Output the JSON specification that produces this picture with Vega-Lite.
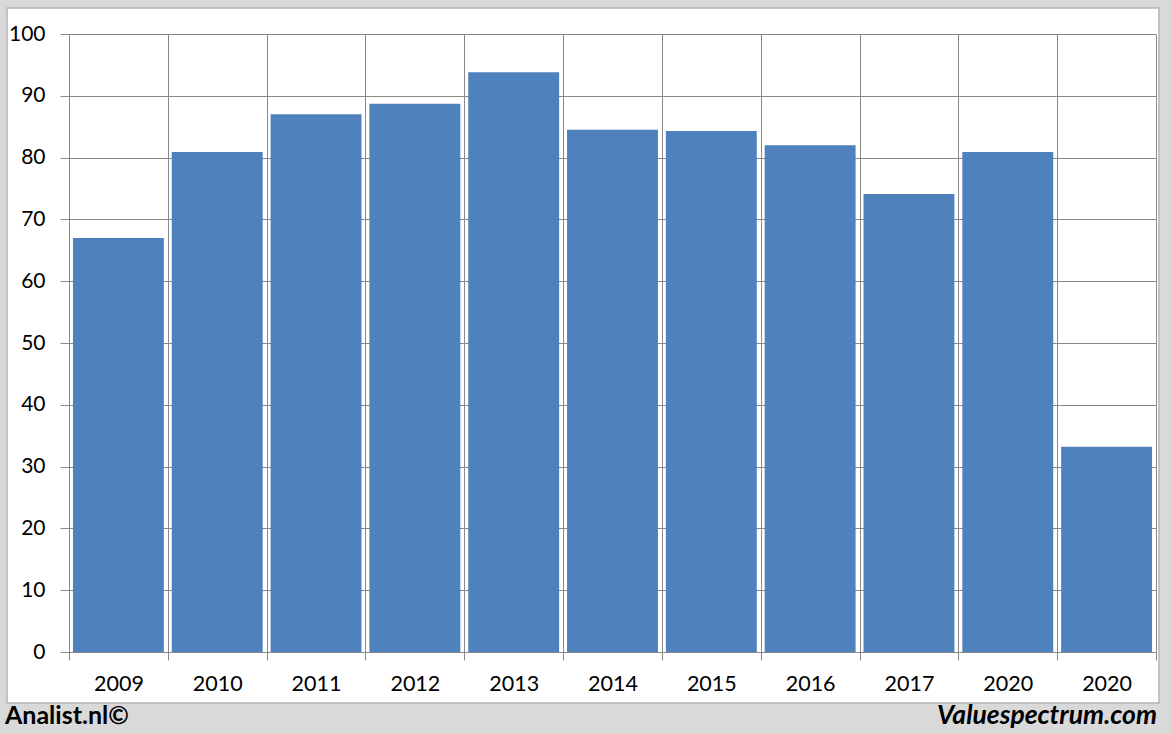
{
  "$schema": "https://vega.github.io/schema/vega-lite/v6.json",
  "width": 1087,
  "height": 618,
  "autosize": {"type": "none"},
  "padding": {"left": 69, "top": 34, "right": 16, "bottom": 82},
  "background": "white",
  "config": {"view": {"stroke": null}, "font": "Lato"},
  "layer": [
    {
      "data": {"values": [
        {"slot": "2009", "value": 67.0},
        {"slot": "2010", "value": 80.9},
        {"slot": "2011", "value": 87.0},
        {"slot": "2012", "value": 88.7},
        {"slot": "2013", "value": 93.8},
        {"slot": "2014", "value": 84.5},
        {"slot": "2015", "value": 84.3},
        {"slot": "2016", "value": 82.0},
        {"slot": "2017", "value": 74.1},
        {"slot": "2020", "value": 80.9},
        {"slot": "2020-2", "value": 33.2}
      ]},
      "mark": {"type": "bar", "color": "#4F81BD", "width": {"band": 0.92}},
      "encoding": {
        "x": {
          "field": "slot", "type": "nominal", "sort": null,
          "scale": {"paddingInner": 0, "paddingOuter": 0},
          "axis": {
            "title": null, "labelAngle": 0, "grid": true, "tickBand": "extent",
            "gridColor": "#898989", "domainColor": "#898989", "tickColor": "#898989",
            "tickSize": 8, "labelPadding": 13, "labelFont": "Lato", "labelFontSize": 21.5,
            "labelColor": "#000000", "labelExpr": "slice(datum.label, 0, 4)"
          }
        },
        "y": {
          "field": "value", "type": "quantitative",
          "scale": {"domain": [0, 100], "nice": false},
          "axis": {
            "title": null, "values": [0, 10, 20, 30, 40, 50, 60, 70, 80, 90, 100],
            "grid": true, "gridColor": "#898989", "domainColor": "#898989", "tickColor": "#898989",
            "tickSize": 9, "labelPadding": 15, "labelFont": "Lato", "labelFontSize": 21,
            "labelColor": "#000000"
          }
        }
      }
    },
    {
      "data": {"values": [{}]},
      "mark": {"type": "rect", "fill": "white", "fillOpacity": 0, "stroke": "#d9d9d9", "strokeWidth": 80},
      "encoding": {
        "x": {"datum": -0.09384, "type": "quantitative", "scale": {"domain": [0, 1], "nice": false, "zero": false}, "axis": null},
        "x2": {"datum": 1.03956},
        "y": {"datum": -0.14725, "type": "quantitative", "scale": {"domain": [0, 1], "nice": false, "zero": false}, "axis": null},
        "y2": {"datum": 1.1068}
      }
    },
    {
      "data": {"values": [{}]},
      "mark": {"type": "rect", "fill": "white", "fillOpacity": 0, "stroke": "#b5b5b5", "strokeWidth": 1.5},
      "encoding": {
        "x": {"datum": -0.05704, "type": "quantitative", "scale": {"domain": [0, 1], "nice": false, "zero": false}, "axis": null},
        "x2": {"datum": 1.00276},
        "y": {"datum": -0.08252, "type": "quantitative", "scale": {"domain": [0, 1], "nice": false, "zero": false}, "axis": null},
        "y2": {"datum": 1.04207}
      }
    },
    {
      "data": {"values": [{}]},
      "mark": {"type": "text", "text": "Analist.nl©", "align": "left", "baseline": "alphabetic", "font": "Lato", "fontSize": 25, "fontWeight": "bold", "color": "#000000"},
      "encoding": {
        "x": {"datum": -0.05888, "type": "quantitative", "scale": {"domain": [0, 1], "nice": false, "zero": false}, "axis": null},
        "y": {"datum": -0.1165, "type": "quantitative", "scale": {"domain": [0, 1], "nice": false, "zero": false}, "axis": null}
      }
    },
    {
      "data": {"values": [{}]},
      "mark": {"type": "text", "text": "Valuespectrum.com", "align": "right", "baseline": "alphabetic", "font": "Lato", "fontSize": 26.5, "fontWeight": "bold", "fontStyle": "italic", "color": "#000000"},
      "encoding": {
        "x": {"datum": 1.0009, "type": "quantitative", "scale": {"domain": [0, 1], "nice": false, "zero": false}, "axis": null},
        "y": {"datum": -0.1165, "type": "quantitative", "scale": {"domain": [0, 1], "nice": false, "zero": false}, "axis": null}
      }
    }
  ],
  "resolve": {"scale": {"x": "independent", "y": "independent"}}
}
